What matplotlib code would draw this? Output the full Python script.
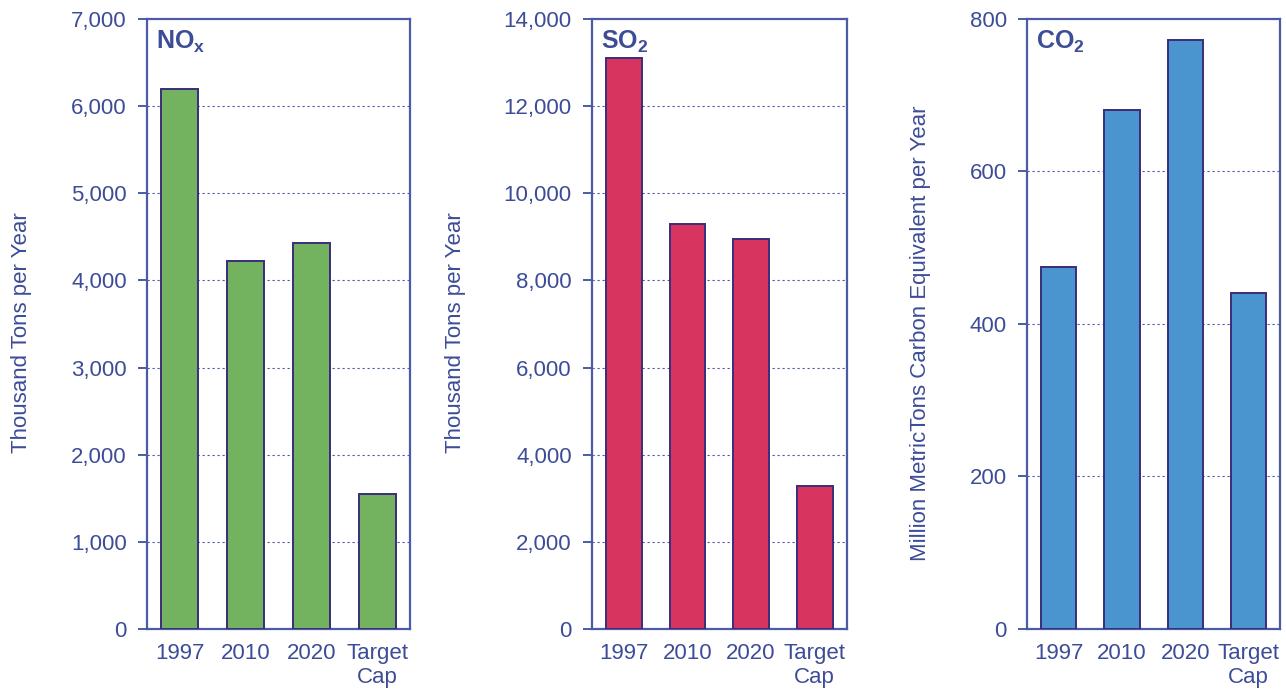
import matplotlib
matplotlib.use("Agg")
import matplotlib.pyplot as plt
import numpy as np

plt.rcParams['font.family'] = ['Liberation Sans', 'DejaVu Sans']
plt.rcParams['mathtext.fontset'] = 'custom'
plt.rcParams['mathtext.rm'] = 'Liberation Sans'
plt.rcParams['mathtext.bf'] = 'Liberation Sans:bold'

# data
categories = ['1997', '2010', '2020', 'Target\nCap']
nox = [6200, 4220, 4430, 1550]
so2 = [13100, 9300, 8960, 3290]
co2 = [475, 680, 773, 441]

txt = '#3d4c97'
spine = '#4b5ba6'
edge = '#3a2d7a'

fig = plt.figure(figsize=(12.86, 6.94), dpi=100)

panels = [
    # left, width, values, colour, ymax, step, ylabel, label, ylabel x
    (0.1143, 0.2045, nox, '#73b35f', 7000, 1000, 'Thousand Tons per Year', r'$\mathbf{NO_x}$', 0.017),
    (0.4603, 0.1980, so2, '#d83460', 14000, 2000, 'Thousand Tons per Year', r'$\mathbf{SO_2}$', 0.354),
    (0.7986, 0.1970, co2, '#4a94d0', 800, 200, 'Million MetricTons Carbon Equivalent per Year', r'$\mathbf{CO_2}$', 0.716),
]

x = np.arange(len(categories))
for left, width, vals, col, ymax, step, ylab, name, lx in panels:
    ax = fig.add_axes([left, 0.0937, width, 0.879])
    ax.bar(x, vals, width=0.56, color=col, edgecolor=edge, linewidth=1.4, zorder=3)
    ax.set_xlim(-0.5, 3.5)
    ax.set_ylim(0, ymax)
    ticks = np.arange(0, ymax + step, step)
    ax.set_yticks(ticks)
    ax.set_yticklabels([f'{t:,}' for t in ticks])
    ax.set_xticks(x)
    ax.set_xticklabels(categories, multialignment='center')
    for t in ticks[1:-1]:
        ax.axhline(t, color=spine, lw=0.8, ls=(0, (2, 2.5)), zorder=1)
    for s in ax.spines.values():
        s.set_color(spine)
        s.set_linewidth(1.6)
    ax.tick_params(axis='y', direction='out', length=6.5, width=1.4, color=spine,
                   labelcolor=txt, labelsize=16, pad=8)
    ax.tick_params(axis='x', length=0, labelcolor=txt, labelsize=16, pad=10)
    ax.text(0.035, 0.984, name, transform=ax.transAxes, ha='left', va='top',
            fontsize=18, color=txt)
    fig.text(lx, 0.52, ylab, rotation=90, ha='center', va='center',
             fontsize=16, color=txt)

fig.savefig('out.png', dpi=100)
